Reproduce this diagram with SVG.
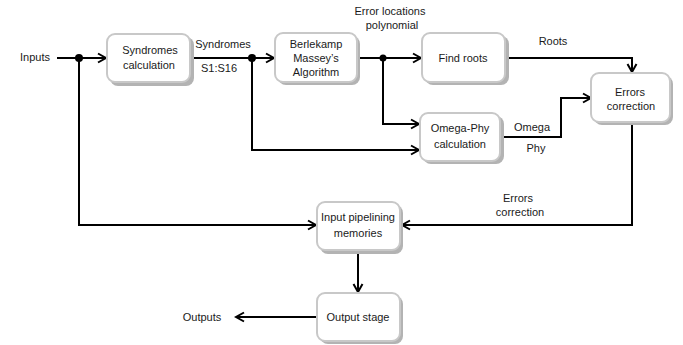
<svg xmlns="http://www.w3.org/2000/svg" width="683" height="345" viewBox="0 0 683 345">
<defs>
<marker id="arr" markerWidth="12" markerHeight="12" viewBox="0 0 12 12" refX="10" refY="6" orient="auto" markerUnits="userSpaceOnUse">
<path d="M2,1.5 L10,6 L2,10.5" fill="none" stroke="#000" stroke-width="2"/>
</marker>
</defs>
<style>
.sh{fill:#b3b3b3;}
.bx{fill:#fff;stroke:#c8c8c8;stroke-width:2;}
.t{font-family:"Liberation Sans",Arial,sans-serif;font-size:11px;fill:#1a1a1a;text-anchor:middle;}
.ln{fill:none;stroke:#000;stroke-width:2;}
</style>
<rect width="683" height="345" fill="#fff"/>
<g id="connectors">
<path class="ln" d="M57,58 H106" marker-end="url(#arr)"/>
<path class="ln" d="M79,58 V225 H316" marker-end="url(#arr)"/>
<path class="ln" d="M191,58 H274" marker-end="url(#arr)"/>
<path class="ln" d="M252,58 V150 H419" marker-end="url(#arr)"/>
<path class="ln" d="M358,58 H421" marker-end="url(#arr)"/>
<path class="ln" d="M383,58 V124 H419" marker-end="url(#arr)"/>
<path class="ln" d="M505,58 H632 V72" marker-end="url(#arr)"/>
<path class="ln" d="M501,137 H561 V98 H591" marker-end="url(#arr)"/>
<path class="ln" d="M632,122 V225 H402" marker-end="url(#arr)"/>
<path class="ln" d="M358,251 V292" marker-end="url(#arr)"/>
<path class="ln" d="M317,317 H236" marker-end="url(#arr)"/>
<circle cx="79" cy="58" r="4" fill="#000"/>
<circle cx="252" cy="58" r="4" fill="#000"/>
<circle cx="383" cy="58" r="3.5" fill="#000"/>
<text class="t" x="35" y="61">Inputs</text>
<text class="t" x="223" y="48">Syndromes</text>
<text class="t" x="219" y="72">S1:S16</text>
<text class="t" x="390" y="15">Error locations</text>
<text class="t" x="392" y="29">polynomial</text>
<text class="t" x="553" y="45">Roots</text>
<text class="t" x="532" y="131">Omega</text>
<text class="t" x="536" y="152">Phy</text>
<text class="t" x="518" y="202">Errors</text>
<text class="t" x="520" y="216">correction</text>
<text class="t" x="202" y="321">Outputs</text>
</g>
<g id="syndromes">
<rect class="sh" x="110" y="37" width="84" height="49" rx="8"/>
<rect class="bx" x="107" y="34" width="83" height="48" rx="8"/>
<text class="t" x="150" y="54">Syndromes</text>
<text class="t" x="149" y="69">calculation</text>
</g>
<g id="berlekamp">
<rect class="sh" x="278" y="36" width="82" height="49" rx="8"/>
<rect class="bx" x="275" y="33" width="82" height="49" rx="8"/>
<text class="t" x="316" y="48">Berlekamp</text>
<text class="t" x="316" y="62">Massey’s</text>
<text class="t" x="316" y="76">Algorithm</text>
</g>
<g id="findroots">
<rect class="sh" x="425" y="36" width="84" height="49" rx="8"/>
<rect class="bx" x="422" y="33" width="83" height="49" rx="8"/>
<text class="t" x="463" y="62">Find roots</text>
</g>
<g id="errorscorrection">
<rect class="sh" x="594" y="76" width="79" height="49" rx="8"/>
<rect class="bx" x="591" y="73" width="79" height="49" rx="8"/>
<text class="t" x="630" y="96">Errors</text>
<text class="t" x="631" y="110">correction</text>
</g>
<g id="omegaphy">
<rect class="sh" x="423" y="116" width="81" height="48" rx="8"/>
<rect class="bx" x="420" y="113" width="80" height="48" rx="8"/>
<text class="t" x="460" y="132">Omega-Phy</text>
<text class="t" x="460" y="148">calculation</text>
</g>
<g id="pipelining">
<rect class="sh" x="320" y="205" width="83" height="49" rx="8"/>
<rect class="bx" x="317" y="202" width="83" height="48" rx="8"/>
<text class="t" x="358" y="221">Input pipelining</text>
<text class="t" x="358" y="237">memories</text>
</g>
<g id="outputstage">
<rect class="sh" x="320" y="296" width="83" height="48" rx="8"/>
<rect class="bx" x="317" y="293" width="83" height="48" rx="8"/>
<text class="t" x="358" y="321">Output stage</text>
</g>
</svg>
